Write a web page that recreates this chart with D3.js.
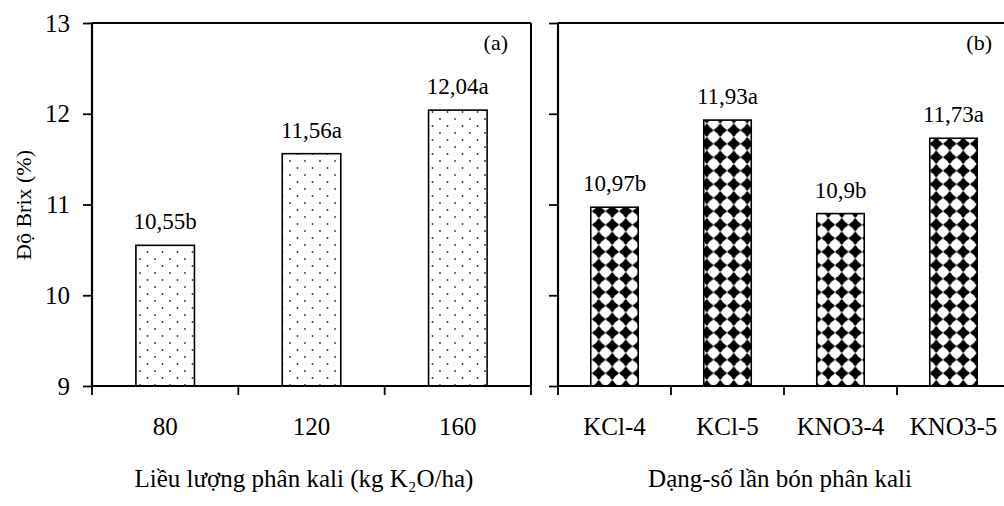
<!DOCTYPE html>
<html>
<head>
<meta charset="utf-8">
<script src="https://cdn.jsdelivr.net/npm/d3@7"></script>
<style>
html,body{margin:0;padding:0;background:#fff;}
svg{display:block;font-family:"Liberation Serif","Times New Roman",serif;}
</style>
</head>
<body>
<svg id="chart" width="1004" height="506"></svg>
<script>
// ---- data ----
const doseCategories = ["80", "120", "160"];
const doseValues = [10.55, 11.56, 12.04];
const doseLabels = ["10,55b", "11,56a", "12,04a"];
const formCategories = ["KCl-4", "KCl-5", "KNO3-4", "KNO3-5"];
const formValues = [10.97, 11.93, 10.9, 11.73];
const formLabels = ["10,97b", "11,93a", "10,9b", "11,73a"];
const yTicks = [9, 10, 11, 12, 13];
const yTitle = "Độ Brix (%)";
const leftTitle = "Liều lượng phân kali (kg K₂O/ha)";
const rightTitle = "Dạng-số lần bón phân kali";

const svg = d3.select("#chart");
const defs = svg.append("defs");

// dotted pattern
const pd = defs.append("pattern").attr("id","dots").attr("patternUnits","userSpaceOnUse")
  .attr("width",15).attr("height",14).attr("x",136).attr("y",4);
pd.append("rect").attr("width",15).attr("height",14).attr("fill","#fff");
pd.append("circle").attr("cx",4).attr("cy",3).attr("r",0.9).attr("fill","#333");
pd.append("circle").attr("cx",11.5).attr("cy",10).attr("r",0.9).attr("fill","#333");

// sphere/diamond pattern
const P = 13.5;
const pc = defs.append("pattern").attr("id","sphere").attr("patternUnits","userSpaceOnUse")
  .attr("width",P).attr("height",P).attr("x",592).attr("y",2);
pc.append("rect").attr("width",P).attr("height",P).attr("fill","#fff");
pc.append("path").attr("d",`M${P/2},0L${P},${P/2}L${P/2},${P}L0,${P/2}Z`).attr("fill","#000");
[[0,0],[P,0],[0,P],[P,P]].forEach(([cx,cy])=>{
  pc.append("circle").attr("cx",cx).attr("cy",cy).attr("r",P*0.39).attr("fill","#fff");
});

const y = d3.scaleLinear().domain([9,13]).range([386,23]);

function panel(opts){
  const {cats, vals, labels, x0, x1, pattern, boxRight, tag, tagX, title, titleX, showY} = opts;
  const x = d3.scaleBand().domain(cats).range([x0,x1]).paddingInner(opts.pad).paddingOuter(opts.pad/2);
  const g = svg.append("g");
  // bars
  g.selectAll("rect.bar").data(vals).enter().append("rect")
    .attr("x",(d,i)=>x(cats[i])).attr("width",x.bandwidth())
    .attr("y",d=>y(d)).attr("height",d=>y(9)-y(d))
    .attr("fill",`url(#${pattern})`).attr("stroke","#000").attr("stroke-width",1.6);
  // value labels
  g.selectAll("text.vl").data(vals).enter().append("text")
    .attr("x",(d,i)=>x(cats[i])+x.bandwidth()/2).attr("y",d=>y(d)-16)
    .attr("text-anchor","middle").attr("font-size",23).text((d,i)=>labels[i]);
  // y axis
  const ya = d3.axisLeft(y).tickValues(yTicks).tickSize(9).tickPadding(13)
    .tickFormat(showY ? d3.format("d") : () => "");
  const yg = g.append("g").attr("transform",`translate(${x0},0)`).call(ya);
  yg.select(".domain").remove();
  yg.selectAll(".tick line").attr("stroke","#000").attr("stroke-width",1.8);
  yg.selectAll(".tick text").attr("font-size",25).attr("font-family","Liberation Serif").attr("fill","#000");
  g.append("line").attr("x1",x0).attr("x2",x0).attr("y1",y(13)).attr("y2",y(9)+1)
    .attr("stroke","#000").attr("stroke-width",2.2);
  // top border
  g.append("line").attr("x1",x0).attr("x2",boxRight ? x1 : 1004).attr("y1",y(13)).attr("y2",y(13))
    .attr("stroke","#000").attr("stroke-width",2);
  if(boxRight){
    g.append("line").attr("x1",x1).attr("x2",x1).attr("y1",y(13)).attr("y2",y(9))
      .attr("stroke","#000").attr("stroke-width",2);
  }
  // x axis
  g.append("line").attr("x1",x0-1).attr("x2",Math.min(x1,1004)).attr("y1",y(9)).attr("y2",y(9))
    .attr("stroke","#000").attr("stroke-width",2.2);
  const bounds = cats.map((c,i)=>x0 + i*(x1-x0)/cats.length).concat([x1]);
  g.selectAll("line.xt").data(bounds).enter().append("line")
    .attr("x1",d=>d).attr("x2",d=>d).attr("y1",y(9)).attr("y2",y(9)+9)
    .attr("stroke","#000").attr("stroke-width",1.8);
  g.selectAll("text.xl").data(cats).enter().append("text")
    .attr("x",d=>x(d)+x.bandwidth()/2).attr("y",435)
    .attr("text-anchor","middle").attr("font-size",25).text(d=>d);
  // tag
  g.append("text").attr("x",tagX).attr("y",50).attr("text-anchor","end").attr("font-size",22).text(tag);
  // title
  g.append("text").attr("x",titleX).attr("y",487).attr("text-anchor","middle").attr("font-size",25)
    .text(title);
}

panel({cats:doseCategories, vals:doseValues, labels:doseLabels,
  x0:92, x1:531, pad:0.6, pattern:"dots", boxRight:true, tag:"(a)", tagX:508,
  title:leftTitle, titleX:304, showY:true});
panel({cats:formCategories, vals:formValues, labels:formLabels,
  x0:558, x1:1010, pad:0.58, pattern:"sphere", boxRight:false, tag:"(b)", tagX:992,
  title:rightTitle, titleX:780, showY:false});

// y title
svg.append("text").attr("transform","translate(31,205) rotate(-90)")
  .attr("text-anchor","middle").attr("font-size",22).text(yTitle);
</script>
</body>
</html>
